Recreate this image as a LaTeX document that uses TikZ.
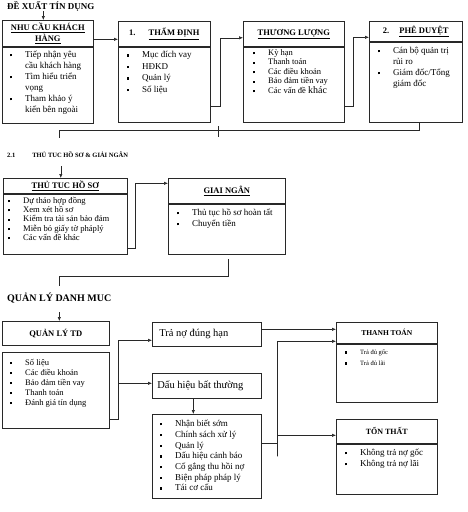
\documentclass[tikz,border=0pt]{standalone}
\usepackage{fontspec}
\setmainfont{Liberation Serif}
\usepackage{tikz}
\usetikzlibrary{arrows.meta, positioning, calc}
\definecolor{linegray}{RGB}{40, 40, 40}

\newcommand{\sq}{\rule[0.3ex]{2.2pt}{2.2pt}}
\newcommand{\li}[1]{\makebox[15pt][l]{\sq}#1}
\newcommand{\cont}[1]{\hspace*{15pt}#1}
\newcommand{\ul}[1]{\underline{#1}}

\begin{document}
\begin{tikzpicture}[
    x=1pt, y=-1pt,
    box/.style={draw=linegray, line width=0.6pt, inner sep=0pt, anchor=north west},
    hd/.style={font=\bfseries\fontsize{8.5}{11}\selectfont, align=center},
    lst/.style 2 args={anchor=north west, inner sep=0pt, align=left, font=\fontsize{#1}{#2}\selectfont},
    ttl/.style={anchor=west, inner sep=0pt, font=\bfseries\fontsize{#1}{#1}\selectfont},
    arr/.style={-{Latex[length=4pt,width=3.4pt]}, draw=linegray, line width=0.6pt},
    ln/.style={draw=linegray, line width=0.6pt}
]
\path[fill=white, use as bounding box] (0,0) rectangle (467,512);

% Titles
\node[ttl=9] (t1) at (7,6) {ĐỀ XUẤT TÍN DỤNG};
\node[ttl=6.5] (t2) at (7,155) {2.1\hspace{17pt}THỦ TUC HỒ SƠ \& GIẢI NGÂN};
\node[ttl=10] (t3) at (7,298) {QUẢN LÝ DANH MUC};

% Row 1: credit proposal
\node[box, hd, minimum width=91pt, minimum height=26pt] (kh) at (2,20) {\ul{NHU CẦU KHÁCH}\\\ul{HÀNG}};
\node[box, minimum width=91pt, minimum height=76pt] (khb) at (kh.south west) {};
\node[box, hd, minimum width=92pt, minimum height=25pt] (th) at (118,21) {1.\hspace{13pt}\ul{THẨM ĐỊNH}};
\node[box, minimum width=92pt, minimum height=75pt] (thb) at (th.south west) {};
\node[box, hd, minimum width=101pt, minimum height=25pt] (tl) at (243,21) {\ul{THƯƠNG LƯỢNG}};
\node[box, minimum width=101pt, minimum height=75pt] (tlb) at (tl.south west) {};
\node[box, hd, minimum width=93pt, minimum height=20pt] (pd) at (369,21) {2.\hspace{10pt}\ul{PHÊ DUYỆT}};
\node[box, minimum width=93pt, minimum height=80pt] (pdb) at (pd.south west) {};

\node[lst={9}{11}] (khL) at ([xshift=8pt,yshift=-3pt]khb.north west)
  {\strut\li{Tiếp nhận yêu}\\\cont{cầu khách hàng}\\\li{Tìm hiểu triển}\\\cont{vọng}\\\li{Tham khảo ý}\\\cont{kiến bên ngoài}};
\node[lst={9}{11.5}] (thL) at ([xshift=9pt,yshift=-3pt]thb.north west)
  {\strut\li{Mục đích vay}\\\li{HĐKD}\\\li{Quản lý}\\\li{Số liệu}};
\node[lst={8.5}{9.5}] (tlL) at ([xshift=10pt,yshift=-2pt]tlb.north west)
  {\strut\li{Kỳ hạn}\\\li{Thanh toán}\\\li{Các điều khoản}\\\li{Bảo đảm tiền vay}\\\li{Các vấn đề {\fontsize{10}{10}\selectfont khác}}};
\node[lst={9}{11}] (pdL) at ([xshift=9pt,yshift=-4pt]pdb.north west)
  {\strut\li{Cán bộ quản trị}\\\cont{rủi ro}\\\li{Giám đốc/Tổng}\\\cont{giám đốc}};

% Row 1 connectors
\draw[arr] ([xshift=-4.5pt]kh.north |- t1.south) -- ([xshift=-4.5pt]kh.north);
\draw[arr] ([yshift=-6pt]kh.east) -- ([yshift=-6pt]kh.east -| th.west);
\draw[arr] ([yshift=16pt]thb.south east) -- ++(10,0) |- ([yshift=-4pt]tl.west);
\draw[arr] ([yshift=16pt]tlb.south east) -- ++(9,0) |- ([yshift=-6pt]pd.west);
\coordinate (c1) at (59,138);
\draw[ln] ([xshift=3.5pt]pdb.south) -- ++(0,8) -| (c1);
\draw[ln] (218,126) -- (218,137);

% Row 2: documents & disbursement
\node[box, hd, minimum width=124pt, minimum height=15pt] (hs) at (3,178) {\ul{THỦ TUC HỒ SƠ}};
\node[box, minimum width=124pt, minimum height=60pt] (hsb) at (hs.south west) {};
\node[box, hd, minimum width=117pt, minimum height=25pt] (gn) at (168,178) {\ul{GIAI NGÂN}};
\node[box, minimum width=117pt, minimum height=50pt] (gnb) at (gn.south west) {};

\node[lst={8.6}{9.3}] (hsL) at ([xshift=5pt,yshift=-3pt]hsb.north west)
  {\strut\li{Dự thảo hợp đồng}\\\li{Xem xét hồ sơ}\\\li{Kiểm tra tài sản bảo đảm}\\\li{Miễn bỏ giấy tờ pháplý}\\\li{Các vấn đề khác}};
\node[lst={9}{11}] (gnL) at ([xshift=9pt,yshift=-4pt]gnb.north west)
  {\strut\li{Thủ tục hồ sơ hoàn tất}\\\li{Chuyển tiền}};

\draw[arr] ([xshift=-4.5pt]hs.north |- t2.south) ++(0,8) -- ([xshift=-4.5pt]hs.north);
\draw[arr] ([yshift=6pt]hsb.south east) -- ++(8,0) |- ([yshift=7.5pt]gn.west);
\coordinate (c2) at (59,286);
\draw[ln] ([xshift=1.5pt,yshift=-5pt]gnb.south) -- ++(0,17) -| (c2);

% Row 3: portfolio management
\node[box, hd, minimum width=107pt, minimum height=24pt] (ql) at (2,321) {QUẢN LÝ TD};
\node[box, minimum width=107pt, minimum height=76pt] (qlb) at (2,352) {};
\node[lst={8.5}{10}] (qlL) at ([xshift=8pt,yshift=-6pt]qlb.north west)
  {\strut\li{Số liệu}\\\li{Các điều khoản}\\\li{Bảo đảm tiền vay}\\\li{Thanh toán}\\\li{Đánh giá tín dụng}};

\node[box, minimum width=109pt, minimum height=24pt, font=\fontsize{10.5}{12}\selectfont] (tn) at (152,322)
  {\makebox[95pt][l]{Trả nợ đúng hạn}};
\node[box, minimum width=109pt, minimum height=25pt, font=\fontsize{10.5}{12}\selectfont] (dh) at (152,373)
  {\makebox[99pt][l]{Dấu hiệu bất thường}};
\node[box, minimum width=109pt, minimum height=84pt] (nb) at (152,414) {};
\node[lst={9}{10.7}] (nbL) at ([xshift=8pt,yshift=-5pt]nb.north west)
  {\strut\li{Nhận biết sớm}\\\li{Chính sách xử lý}\\\li{Quản lý}\\\li{Dấu hiệu cảnh báo}\\\li{Cố gắng thu hồi nợ}\\\li{Biện pháp pháp lý}\\\li{Tái cơ cấu}};

\node[box, hd, font=\bfseries\fontsize{7.5}{9}\selectfont, minimum width=101pt, minimum height=21pt] (tt) at (336,322) {THANH TOÁN};
\node[box, minimum width=101pt, minimum height=58pt] (ttb) at (tt.south west) {};
\node[lst={6.5}{11}] (ttL) at ([xshift=9pt,yshift=-3pt]ttb.north west)
  {\strut\li{Trả đủ gốc}\\\li{Trả đủ lãi}};
\node[box, hd, font=\bfseries\fontsize{8}{9}\selectfont, minimum width=101pt, minimum height=24pt] (tt2) at (336,419) {TỔN THẤT};
\node[box, minimum width=101pt, minimum height=50pt] (tt2b) at (tt2.south west) {};
\node[lst={9}{11}] (tt2L) at ([xshift=9pt,yshift=-4pt]tt2b.north west)
  {\strut\li{Không trả nợ gốc}\\\li{Không trả nợ lãi}};

% Row 3 connectors
\draw[arr] ([xshift=3.5pt]ql.north |- t3.south) ++(0,9) -- ([xshift=3.5pt]ql.north);
\coordinate (qx) at ([xshift=9pt]qlb.east);
\draw[arr] ([yshift=9pt]qlb.south east) -| (qx) |- ([yshift=-6pt]tn.west);
\draw[arr] ([yshift=2.5pt]dh.west -| qx) -- ([yshift=2.5pt]dh.west);
\draw[arr] ([xshift=-13.5pt]dh.south) -- ([xshift=-13.5pt]nb.north);
\draw[arr] ([yshift=5pt]tn.east) -- ([yshift=5pt]tn.east -| tt.west);
\coordinate (rx) at ([xshift=16pt]nb.east);
\draw[arr] ([yshift=55pt]nb.south east) -| (rx) |- ([yshift=-8.5pt]tt.west);
\draw[arr] ([yshift=-4pt]tt2.west -| rx) -- ([yshift=-4pt]tt2.west);
\end{tikzpicture}
\end{document}
